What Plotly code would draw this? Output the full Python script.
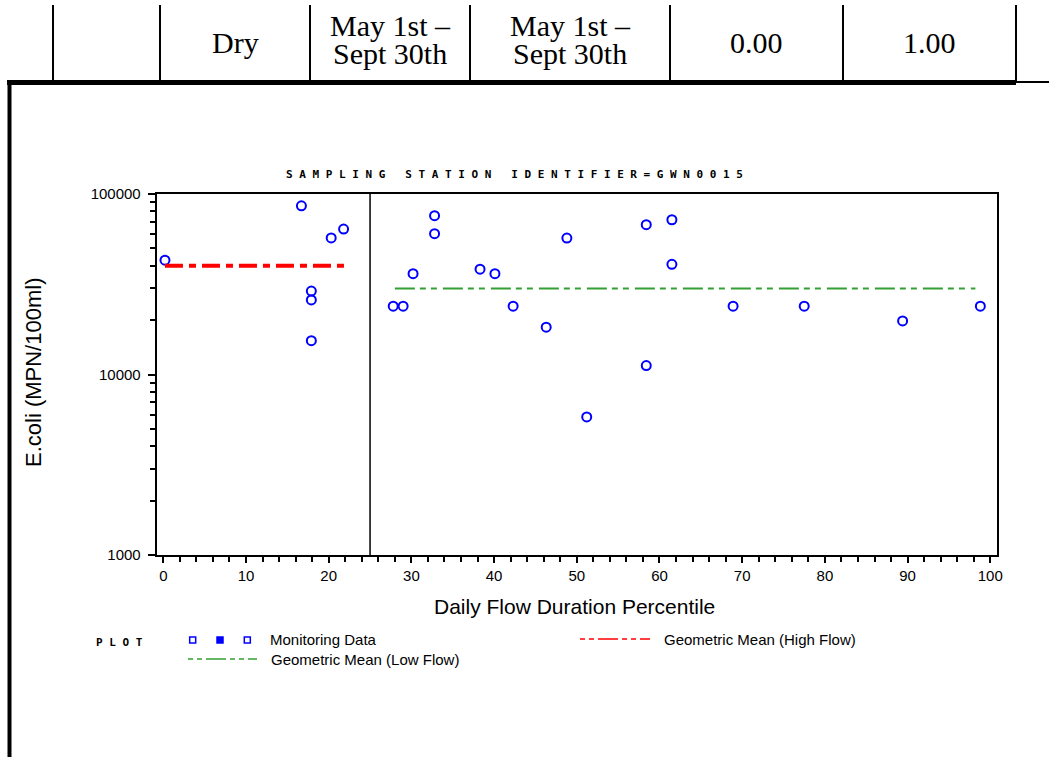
import plotly.graph_objects as go

W, H = 1049, 757

# ---------------- data ----------------
high_flow_pct = [0.2, 16.7, 17.9, 17.9, 17.9, 20.3, 21.8]
high_flow_ecoli = [43000, 86000, 29000, 25900, 15400, 57100, 63900]

low_flow_pct = [27.8, 29.0, 30.2, 32.8, 32.8, 38.3, 40.1, 42.3, 46.3, 48.8,
                51.2, 58.4, 58.4, 61.5, 61.5, 68.9, 77.5, 89.4, 98.8]
low_flow_ecoli = [23900, 23900, 36200, 75800, 60300, 38300, 36200, 23900, 18300, 57000,
                  5820, 67600, 11200, 72000, 40800, 23900, 23900, 19800, 23900]

gm_high_span = [0.2, 22.0]
gm_high_value = 40000
gm_low_span = [28.0, 98.2]
gm_low_value = 30000
flow_break = 25

x_tick_vals = [0, 10, 20, 30, 40, 50, 60, 70, 80, 90, 100]
y_tick_vals = [1000, 10000, 100000]
y_tick_text = ["1000", "10000", "100000"]

table_row = ["Dry", ["May 1st –", "Sept 30th"], ["May 1st –", "Sept 30th"], "0.00", "1.00"]

title_words = ["SAMPLING", "STATION", "IDENTIFIER=GWN0015"]
x_title = "Daily Flow Duration Percentile"
y_title = "E.coli (MPN/100ml)"
legend_labels = ["Monitoring Data", "Geometric Mean (High Flow)", "Geometric Mean (Low Flow)"]

# ---------------- helpers ----------------
def px(x):
    return x / W

def py(y):
    return 1 - y / H

NB = "\u00a0"
def spaced(words):
    return (NB * 3).join(NB.join(list(w)) for w in words)

BLUE = "#0000ff"
RED = "#ff0000"
GREEN = "#33a033"

fig = go.Figure()

fig.add_trace(go.Scatter(
    x=high_flow_pct + low_flow_pct, y=high_flow_ecoli + low_flow_ecoli,
    mode="markers", name=legend_labels[0],
    marker=dict(symbol="circle-open", size=9, color=BLUE, line=dict(width=2)),
))
fig.add_trace(go.Scatter(
    x=gm_high_span, y=[gm_high_value] * len(gm_high_span), mode="lines",
    name=legend_labels[1], line=dict(color=RED, width=4, dash="18px,6px,7px,6px"),
))
fig.add_trace(go.Scatter(
    x=gm_low_span, y=[gm_low_value] * len(gm_low_span), mode="lines",
    name=legend_labels[2], line=dict(color=GREEN, width=2, dash="20px,5px,6px,5px,6px,6px"),
))

shapes = []
# separator between high and low flow
shapes.append(dict(type="line", xref="x", yref="y domain", x0=flow_break, x1=flow_break,
                   y0=0, y1=1, line=dict(color="black", width=1.5)))

# ---- table fragment at top ----
for xv in [53, 160, 310, 470, 670, 843, 1016]:
    shapes.append(dict(type="line", xref="paper", yref="paper", x0=px(xv), x1=px(xv),
                       y0=py(5), y1=py(82), line=dict(color="black", width=2)))
shapes.append(dict(type="line", xref="paper", yref="paper", x0=px(7), x1=px(1016),
                   y0=py(82.5), y1=py(82.5), line=dict(color="black", width=5)))
shapes.append(dict(type="line", xref="paper", yref="paper", x0=px(1016), x1=px(1049),
                   y0=py(82), y1=py(82), line=dict(color="black", width=2)))
shapes.append(dict(type="line", xref="paper", yref="paper", x0=px(9.5), x1=px(9.5),
                   y0=py(80), y1=py(757), line=dict(color="black", width=4)))

# ---- legend (SAS style) ----
for i, xv in enumerate([192.7, 220, 247.3]):
    shapes.append(dict(type="rect", xref="paper", yref="paper",
                       x0=px(xv - 3), x1=px(xv + 3), y0=py(643), y1=py(637),
                       line=dict(color=BLUE, width=1.5),
                       fillcolor=BLUE if i == 1 else "rgba(0,0,0,0)"))
shapes.append(dict(type="line", xref="paper", yref="paper", x0=px(580), x1=px(650),
                   y0=py(639), y1=py(639),
                   line=dict(color=RED, width=1.5, dash="5px,4px,5px,4px,20px,4px")))
shapes.append(dict(type="line", xref="paper", yref="paper", x0=px(188), x1=px(257),
                   y0=py(659), y1=py(659),
                   line=dict(color=GREEN, width=1.5, dash="5px,4px,5px,4px,20px,4px")))

annotations = []
serif = dict(family="Liberation Serif", size=30, color="black")
cell_centers = [235, 390, 570, 756, 929]
for cx, cell in zip(cell_centers, table_row):
    if isinstance(cell, list):
        for line, cy in zip(cell, [25, 53]):
            annotations.append(dict(x=px(cx), y=py(cy), xref="paper", yref="paper",
                                    text=line, showarrow=False, font=serif,
                                    xanchor="center", yanchor="middle"))
    else:
        annotations.append(dict(x=px(cx), y=py(43), xref="paper", yref="paper",
                                text=cell, showarrow=False, font=serif,
                                xanchor="center", yanchor="middle"))

mono = dict(family="DejaVu Sans Mono", size=11, color="black", weight="bold")
annotations.append(dict(x=px(514), y=py(174), xref="paper", yref="paper",
                        text=spaced(title_words), showarrow=False, font=mono,
                        xanchor="center", yanchor="middle"))
annotations.append(dict(x=px(119), y=py(642), xref="paper", yref="paper",
                        text=spaced(["PLOT"]), showarrow=False, font=mono,
                        xanchor="center", yanchor="middle"))

sans = "Liberation Sans"
annotations.append(dict(x=px(574.5), y=py(606), xref="paper", yref="paper",
                        text=x_title, showarrow=False,
                        font=dict(family=sans, size=21, color="black"),
                        xanchor="center", yanchor="middle"))
annotations.append(dict(x=px(33), y=py(373), xref="paper", yref="paper",
                        text=y_title, showarrow=False, textangle=-90,
                        font=dict(family=sans, size=22, color="black"),
                        xanchor="center", yanchor="middle"))
legend_pos = [(268, 639), (662, 639), (269, 659)]
for lab, (lx, ly) in zip(legend_labels, legend_pos):
    annotations.append(dict(x=px(lx), y=py(ly), xref="paper", yref="paper",
                            text=lab, showarrow=False,
                            font=dict(family=sans, size=15, color="black"),
                            xanchor="left", yanchor="middle"))

fig.update_layout(
    width=W, height=H, autosize=False,
    margin=dict(l=0, r=0, t=0, b=0, pad=0, autoexpand=False),
    paper_bgcolor="white", plot_bgcolor="white",
    showlegend=False,
    shapes=shapes, annotations=annotations,
    xaxis=dict(
        automargin=False,
        domain=[px(156.7), px(997.3)], range=[-0.8, 100.85],
        tickvals=x_tick_vals, ticks="outside", ticklen=6, tickwidth=1.5, tickcolor="black",
        showline=True, linewidth=2, linecolor="black", mirror=True,
        showgrid=False, zeroline=False,
        tickfont=dict(family=sans, size=15, color="black"),
        minor=dict(dtick=2, ticks="outside", ticklen=5, tickwidth=1.5, tickcolor="black", showgrid=False),
    ),
    yaxis=dict(
        automargin=False,
        type="log", domain=[py(555), py(194)], range=[3, 5],
        tickvals=y_tick_vals, ticktext=y_tick_text,
        ticks="outside", ticklen=7, tickwidth=1.5, tickcolor="black",
        showline=True, linewidth=2, linecolor="black", mirror=True,
        showgrid=False, zeroline=False,
        tickfont=dict(family=sans, size=15, color="black"),
        ticklabelstandoff=4,
        minor=dict(dtick="D1", ticks="outside", ticklen=5, tickwidth=1.5, tickcolor="black", showgrid=False),
    ),
)

fig.write_html(
    "out.html",
    config={"displayModeBar": False},
    post_script=(
        "document.documentElement.style.margin='0';"
        "document.documentElement.style.overflow='hidden';"
        "document.body.style.margin='0';"
        "document.body.style.overflow='hidden';"
        "var d=document.getElementById('{plot_id}');"
        "d.style.position='fixed';d.style.left='0px';d.style.top='0px';"
    ),
)
